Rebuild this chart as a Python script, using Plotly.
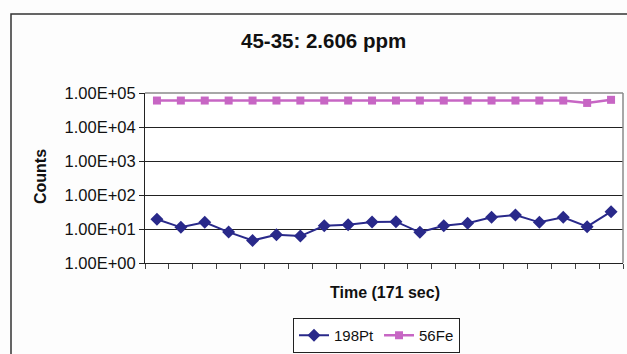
import plotly.graph_objects as go

# Data
time_idx = list(range(1, 21))
pt198 = [19.3, 11.2, 15.7, 8.1, 4.6, 6.8, 6.2, 12.5, 13.4, 16.0,
         16.4, 8.0, 12.5, 14.7, 22.0, 25.8, 15.7, 22.0, 11.7, 32.3]
fe56 = [60000, 60000, 60000, 60000, 60000, 60000, 60000, 60000, 60000, 60000,
        60000, 60000, 60000, 60000, 60000, 60000, 60000, 60000, 51000, 63000]
ytick_vals = [1, 10, 100, 1000, 10000, 100000]
ytick_text = ["1.00E+00", "1.00E+01", "1.00E+02", "1.00E+03", "1.00E+04", "1.00E+05"]

W, H = 627, 354
L, R, T, B = 145, 623, 93, 263
pw, ph = R - L, B - T

def px(x):
    return (x - L) / pw

def py(y):
    return (B - y) / ph

fig = go.Figure()
fig.add_trace(go.Scatter(
    x=time_idx, y=pt198, name="198Pt", mode="lines+markers",
    line=dict(color="#29298A", width=2),
    marker=dict(symbol="diamond", size=10, color="#29298A"),
))
fig.add_trace(go.Scatter(
    x=time_idx, y=fe56, name="56Fe", mode="lines+markers",
    line=dict(color="#C766C4", width=2.5),
    marker=dict(symbol="square", size=8, color="#C766C4"),
))

font = "Arial, Liberation Sans, sans-serif"

fig.update_layout(
    width=W, height=H,
    margin=dict(l=L, r=W - R, t=T, b=H - B, pad=0, autoexpand=False),
    paper_bgcolor="#FDFDFD", plot_bgcolor="#FFFFFF",
    font=dict(family=font, size=15, color="#111111"),
    showlegend=True,
    legend=dict(
        orientation="h", x=px(293), y=py(318), xanchor="left", yanchor="top",
        bgcolor="#FFFFFF", bordercolor="#222222", borderwidth=1,
        font=dict(family=font, size=15, color="#111111"),
        itemwidth=30, tracegroupgap=0,
    ),
    xaxis=dict(
        range=[0.5, 20.5], tickmode="array",
        tickvals=[i + 0.5 for i in range(0, 21)],
        ticktext=[""] * 21, ticks="outside", ticklen=5, tickcolor="#444444",
        showgrid=False, zeroline=False, showline=True, linecolor="#222222", linewidth=1,
    ),
    yaxis=dict(
        type="log", range=[0, 5], tickmode="array",
        tickvals=ytick_vals, ticktext=ytick_text,
        ticks="outside", ticklen=5, tickcolor="#222222",
        tickfont=dict(family=font, size=16.5, color="#111111"),
        showgrid=True, gridcolor="#222222", gridwidth=1,
        zeroline=False, showline=True, linecolor="#222222", linewidth=1,
    ),
    shapes=[
        dict(type="line", xref="paper", yref="paper", x0=0, x1=1, y0=1, y1=1,
             line=dict(color="#8A8A8A", width=1.5)),
        dict(type="line", xref="paper", yref="paper", x0=1, x1=1, y0=0, y1=1,
             line=dict(color="#8A8A8A", width=1.5)),
        dict(type="rect", xref="paper", yref="paper",
             x0=px(11), x1=px(640), y0=py(14), y1=py(370),
             line=dict(color="#333333", width=1.5), fillcolor="rgba(0,0,0,0)"),
    ],
    annotations=[
        dict(text="<b>45-35: 2.606 ppm</b>", xref="paper", yref="paper",
             x=px(323), y=py(41), xanchor="center", yanchor="middle",
             showarrow=False, font=dict(family=font, size=20.5, color="#111111")),
        dict(text="<b>Counts</b>", xref="paper", yref="paper",
             x=px(40), y=py(177), xanchor="center", yanchor="middle", textangle=-90,
             showarrow=False, font=dict(family=font, size=16, color="#111111")),
        dict(text="<b>Time (171 sec)</b>", xref="paper", yref="paper",
             x=px(385), y=py(292), xanchor="center", yanchor="middle",
             showarrow=False, font=dict(family=font, size=16, color="#111111")),
    ],
)

fig.write_html("out.html")
